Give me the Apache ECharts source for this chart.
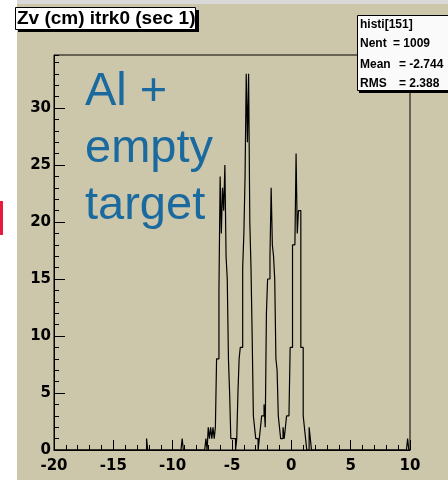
<!DOCTYPE html>
<html>
<head>
<meta charset="utf-8">
<script src="https://cdn.jsdelivr.net/npm/echarts@6/dist/echarts.min.js"></script>
<style>
  html, body { margin: 0; padding: 0; background: #fff; }
</style>
</head>
<body>
<div id="main" style="width: 448px;height:480px;"></div>

<script type="text/javascript">
// histogram binning (Zv in cm)
var xMin = -20;
var xMax = 10;
var binWidth = 0.1;
var yMax = 34.65;

// bin contents, contiguous from the bin whose lower edge is firstBin
var firstBin = -7.2;
var counts = [
  1, 0, 2, 1, 2, 1, 2, 1,                       // -7.2 .. -6.5
  2, 8, 8, 14, 24, 19, 23, 21, 25, 17, 15, 8, 5, // -6.4 .. -5.2  (peak A)
  1, 1, 1, 1, 0, 1,                             // -5.1 .. -4.6
  5, 8, 9, 9, 16, 19, 24, 33, 27, 33, 20, 16, 10, 3, 2, 1, // -4.5 .. -3.0 (peak B)
  1, 0,                                         // -2.9 .. -2.8
  1, 2, 3, 3, 4, 2, 12, 15, 15, 17, 23, 18, 17, 15, 8, 7, 3, 2, 1, // -2.7 .. -0.9 (peak C)
  1, 2, 1, 2, 3, 3, 3, 9, 9, 18, 18, 18, 26, 19, 21, 21, 9, 9, 3, 2, 1, // -0.8 .. 1.2 (peak D)
  0, 0, 2, 1                                    // 1.3 .. 1.6
];
// isolated single entries far from the targets
var strayBins = [-12.2, -9.2, 9.8];
var strayCounts = [1, 1, 1];

// axis ticks
var xTicks = [-20, -15, -10, -5, 0, 5, 10];
var yTicks = [0, 5, 10, 15, 20, 25, 30];

// stats box
var statsName = 'histi[151]';
var statsLines = [['Nent', '= 1009'], ['Mean', '= -2.744'], ['RMS', '= 2.388']];

var titleText = 'Zv (cm) itrk0 (sec 1)';
var noteText = 'Al +\nempty\ntarget';

// fill the full histogram
var nBins = Math.round((xMax - xMin) / binWidth);
var bins = [];
for (var i = 0; i < nBins; i++) bins.push(0);
var off = Math.round((firstBin - xMin) / binWidth);
for (var i = 0; i < counts.length; i++) bins[off + i] += counts[i];
for (var i = 0; i < strayBins.length; i++) {
  bins[Math.round((strayBins[i] - xMin) / binWidth)] += strayCounts[i];
}

// outline as steps
var steps = [];
for (var i = 0; i < nBins; i++) {
  var lo = +(xMin + i * binWidth).toFixed(2);
  var hi = +(xMin + (i + 1) * binWidth).toFixed(2);
  steps.push([lo, bins[i]]);
  steps.push([hi, bins[i]]);
}

var myChart = echarts.init(document.getElementById('main'));

var labelFont = {
  fontFamily: 'DejaVu Sans',
  fontWeight: 'bold',
  fontSize: 15,
  color: '#000'
};
var statsFont = 'bold 12px "Liberation Sans"';

var statsGraphics = [
  { type: 'rect', shape: { x: 359, y: 17, width: 100, height: 76 }, style: { fill: '#000' }, z: 100 },
  { type: 'rect', shape: { x: 357.5, y: 15.5, width: 100, height: 75 }, style: { fill: '#fafafa', stroke: '#000', lineWidth: 1 }, z: 101 },
  { type: 'text', x: 360, y: 25, style: { text: statsName, font: statsFont, fill: '#000', verticalAlign: 'middle' }, z: 102 }
];
var statsY = [44, 65, 84];
var eqX = [393, 399, 399];
for (var k = 0; k < statsLines.length; k++) {
  statsGraphics.push({ type: 'text', x: 360, y: statsY[k], style: { text: statsLines[k][0], font: statsFont, fill: '#000', verticalAlign: 'middle' }, z: 102 });
  statsGraphics.push({ type: 'text', x: eqX[k], y: statsY[k], style: { text: statsLines[k][1], font: statsFont, fill: '#000', verticalAlign: 'middle' }, z: 102 });
}

option = {
  animation: false,
  backgroundColor: '#ccc6aa',
  graphic: [
    // white strip on the left and gray strip at top
    { type: 'rect', shape: { x: 0, y: 0, width: 17, height: 480 }, style: { fill: '#ffffff' }, z: -10 },
    { type: 'rect', shape: { x: 17, y: 0, width: 431, height: 4 }, style: { fill: '#d9d9d9' }, z: -10 },
    { type: 'rect', shape: { x: 0, y: 201, width: 3, height: 34 }, style: { fill: '#e8193c' }, z: -9 },
    // title box
    { type: 'rect', shape: { x: 18, y: 10, width: 181, height: 22 }, style: { fill: '#000' }, z: 100 },
    { type: 'rect', shape: { x: 15.5, y: 7.5, width: 180, height: 22 }, style: { fill: '#fff', stroke: '#000', lineWidth: 1 }, z: 101 },
    { type: 'text', x: 17, y: 19, style: { text: titleText, font: 'bold 19px "Liberation Sans"', fill: '#000', verticalAlign: 'middle' }, z: 102 },
    // note
    { type: 'text', x: 85, y: 64, style: { text: noteText, font: '47px "Liberation Sans"', lineHeight: 57, fill: '#1a6aa0', verticalAlign: 'top' }, z: 50 }
  ].concat(statsGraphics),
  grid: {
    left: 54,
    right: 38,
    top: 55,
    bottom: 30,
    show: true,
    backgroundColor: 'transparent',
    borderColor: '#000',
    borderWidth: 1
  },
  xAxis: {
    type: 'value',
    min: xMin,
    max: xMax,
    interval: 5,
    axisLine: { show: true, onZero: false, lineStyle: { color: '#000', width: 1 } },
    axisTick: { show: true, inside: true, length: 10, lineStyle: { color: '#000' } },
    minorTick: { show: true, splitNumber: 5, length: 5, lineStyle: { color: '#000' } },
    splitLine: { show: false },
    axisLabel: Object.assign({ margin: 9, formatter: function (v) { return xTicks.indexOf(v) >= 0 ? String(v) : ''; } }, labelFont)
  },
  yAxis: [
    {
      type: 'value',
      position: 'left',
      min: 0,
      max: yMax,
      interval: 5,
      axisLine: { show: true, onZero: false, lineStyle: { color: '#000', width: 1 } },
      axisTick: { show: true, inside: true, length: 11, lineStyle: { color: '#000' } },
      splitLine: { show: false },
      axisLabel: Object.assign({ margin: 3, showMaxLabel: false, formatter: function (v) { return yTicks.indexOf(v) >= 0 ? String(v) : ''; } }, labelFont)
    },
    {
      type: 'value',
      position: 'left',
      min: 0,
      max: yMax,
      interval: 1,
      axisLine: { show: false, onZero: false },
      axisTick: { show: true, inside: true, length: 5, lineStyle: { color: '#000' } },
      splitLine: { show: false },
      axisLabel: { show: false }
    }
  ],
  series: [
    {
      name: 'Zv',
      type: 'line',
      yAxisIndex: 0,
      data: steps,
      showSymbol: false,
      symbol: 'none',
      lineStyle: { color: '#000', width: 1.2 },
      z: 5
    }
  ]
};

myChart.setOption(option);
</script>
</body>
</html>
